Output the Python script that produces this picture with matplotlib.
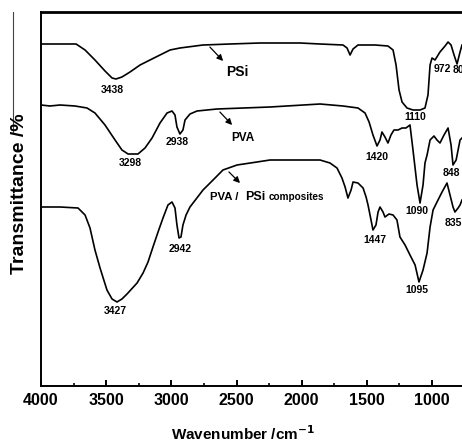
import matplotlib
matplotlib.use("Agg")
import matplotlib.pyplot as plt
from matplotlib.lines import Line2D
from matplotlib import font_manager

plt.rcParams['font.family'] = ['Liberation Sans', 'DejaVu Sans']
plt.rcParams['font.weight'] = 'bold'

_names = {f.name for f in font_manager.fontManager.ttflist}
xlabel_family = ['Liberation Sans Narrow'] if 'Liberation Sans Narrow' in _names else ['Liberation Sans']
xlabel_size = 13 if 'Liberation Sans Narrow' in _names else 11

# ---- data (wavenumber in cm^-1, transmittance in arbitrary units) ----
psi_wn = [4000, 3731, 3662, 3586, 3509, 3455, 3425, 3379, 3317, 3240, 3164, 3087, 3010,
          2934, 2757, 2550, 2320, 2013, 1859, 1683, 1652, 1629, 1606, 1568, 1437, 1338,
          1299, 1276, 1253, 1230, 1192, 1146, 1092, 1054, 1031, 1015, 1000, 977, 939,
          900, 877, 854, 831, 808, 785, 770]
psi_t = [342, 342, 336, 326, 315, 308, 307, 309, 314, 321, 326, 331, 336,
         338, 341, 342, 343, 343, 342, 341, 338, 331, 337, 341, 341, 340,
         336, 321, 296, 284, 278, 276, 276, 278, 291, 321, 328, 326, 334,
         340, 344, 341, 331, 322, 334, 341]

pva_wn = [4000, 3931, 3854, 3739, 3647, 3586, 3509, 3432, 3379, 3332, 3256, 3202, 3148,
          3087, 3033, 2995, 2972, 2957, 2934, 2911, 2895, 2857, 2803, 2650, 2243, 1859,
          1683, 1568, 1514, 1483, 1453, 1422, 1399, 1384, 1361, 1338, 1315, 1292, 1261,
          1230, 1200, 1169, 1146, 1115, 1092, 1069, 1054, 1038, 1015, 985, 962, 939,
          908, 877, 854, 839, 815, 785, 770]
pva_t = [281, 280, 281, 280, 278, 273, 261, 246, 236, 232, 232, 238, 248,
         263, 273, 275, 271, 259, 252, 256, 266, 272, 275, 277, 279, 282,
         280, 278, 273, 264, 251, 240, 246, 254, 249, 243, 251, 256, 256,
         258, 258, 261, 236, 201, 183, 201, 223, 231, 246, 250, 246, 243,
         251, 258, 241, 221, 226, 246, 248]

comp_wn = [4000, 3854, 3716, 3662, 3624, 3586, 3547, 3494, 3455, 3417, 3379, 3340, 3263,
           3217, 3179, 3141, 3102, 3064, 3026, 2995, 2972, 2957, 2941, 2926, 2911, 2887,
           2857, 2757, 2680, 2604, 2496, 2343, 2243, 1990, 1859, 1783, 1729, 1691, 1667,
           1645, 1621, 1606, 1568, 1529, 1506, 1491, 1468, 1453, 1430, 1414, 1399, 1376,
           1361, 1330, 1299, 1269, 1246, 1207, 1169, 1130, 1100, 1069, 1038, 1015, 992,
           954, 923, 885, 862, 839, 824, 800, 785, 770]
comp_t = [179, 179, 178, 171, 158, 136, 118, 96, 87, 84, 87, 92, 103,
          113, 124, 139, 154, 168, 181, 184, 178, 161, 148, 149, 161, 171,
          179, 196, 206, 216, 221, 224, 226, 226, 226, 223, 218, 208, 199,
          188, 196, 204, 203, 198, 189, 181, 166, 156, 161, 174, 179, 174,
          169, 172, 171, 166, 149, 141, 131, 121, 104, 116, 133, 159, 176,
          186, 194, 203, 191, 179, 174, 178, 181, 186]

# annotation texts: (label, wavenumber, transmittance)
peak_labels = [("3438", 3455, 296), ("3298", 3317, 223), ("2938", 2957, 244),
               ("1420", 1422, 229), ("1110", 1130, 269), ("972", 923, 317),
               ("1090", 1115, 175), ("848", 854, 213), ("2942", 2934, 137),
               ("3427", 3432, 75), ("1447", 1437, 146), ("1095", 1115, 96),
               ("835", 839, 163)]
xticks = [4000, 3500, 3000, 2500, 2000, 1500, 1000]

fig = plt.figure(figsize=(4.62, 4.43), dpi=100)
ax = fig.add_axes([41/462, 57/443, 421/462, 374/443])

for wn, t in [(psi_wn, psi_t), (pva_wn, pva_t), (comp_wn, comp_t)]:
    ax.plot(wn, t, color='black', lw=1.2)

ax.set_xlim(4000, 770)
ax.set_ylim(0, 374)
ax.set_xticks(xticks)
ax.set_xticks([3750, 3250, 2750, 2250, 1750, 1250], minor=True)
ax.set_yticks([])
ax.tick_params(axis='x', which='major', direction='in', length=4, width=1.4,
               labelsize=11.5, pad=5, top=False)
ax.tick_params(axis='x', which='minor', direction='in', length=2.5, width=1.2, top=False)
for lab in ax.get_xticklabels():
    lab.set_fontweight('bold')
ax.spines['right'].set_visible(False)
ax.spines['left'].set_linewidth(1.4)
ax.spines['bottom'].set_linewidth(1.4)
ax.spines['top'].set_linewidth(2.0)

fs = 7.5
for lab, x, y in peak_labels:
    ax.text(x, y, lab, ha='center', va='center', fontsize=fs, fontweight='bold')
ax.text(839, 316, "800", ha='left', va='center', fontsize=fs, fontweight='bold', clip_on=False)

arrow_kw = dict(arrowstyle='-|>', color='black', lw=0.9, mutation_scale=9)
# series labels with arrows
ax.text(2496, 314, "PSi", ha='center', va='center', fontsize=10, fontweight='bold')
ax.annotate("", xy=(2588, 323), xytext=(2719, 341), arrowprops=arrow_kw)
ax.text(2450, 248, "PVA", ha='center', va='center', fontsize=8.5, fontweight='bold')
ax.annotate("", xy=(2519, 259), xytext=(2642, 276), arrowprops=arrow_kw)
ax.text(2703, 189, "PVA /", ha='left', va='center', fontsize=8.2, fontweight='bold')
ax.text(2435, 189, "PSi", ha='left', va='center', fontsize=9, fontweight='bold')
ax.text(2250, 189, "composites", ha='left', va='center', fontsize=7.2, fontweight='bold')
ax.annotate("", xy=(2458, 201), xytext=(2573, 216), arrowprops=arrow_kw)

fig.text(20/462, 1 - 194/443, "Transmittance /%", rotation=90, ha='center', va='center',
         fontsize=14, fontweight='bold')
fig.text(243/462, 1 - 434/443, "Wavenumber /cm$^{\\mathbf{-1}}$", ha='center', va='center',
         fontsize=xlabel_size, fontweight='bold', family=xlabel_family)

fig.add_artist(Line2D([13/462, 13/462], [1 - 12/443, 1 - 132/443], color='#444444', lw=0.8))

fig.savefig("out.png", dpi=100)
